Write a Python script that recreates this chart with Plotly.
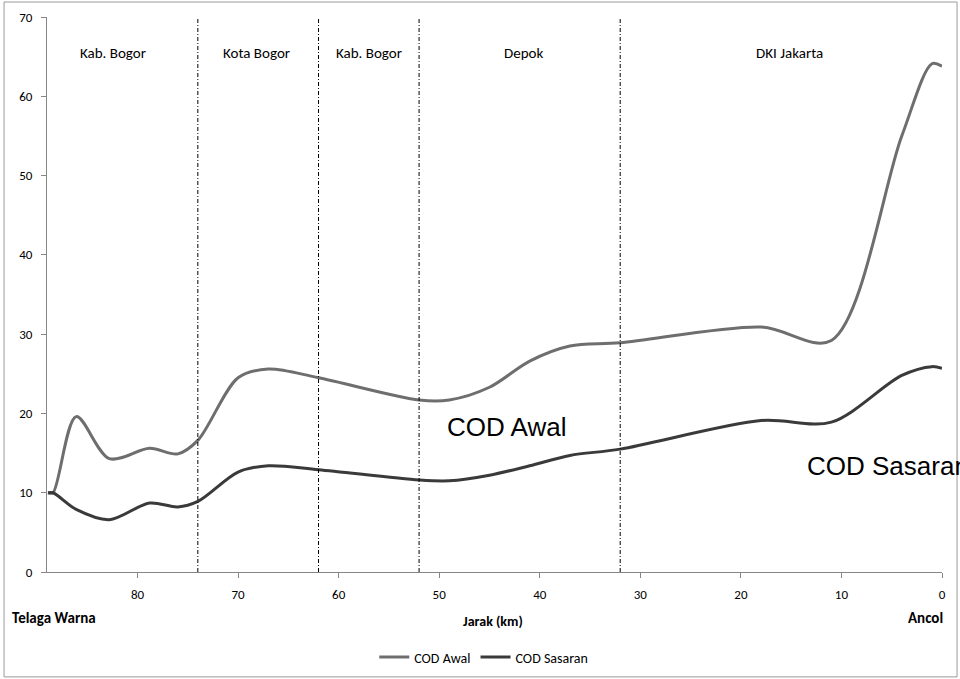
import plotly.graph_objects as go

# Distance from Ancol (km)
jarak_km = [88.9, 88.4, 86.1, 82.8, 78.8, 76.0, 74.0, 70.0, 67.0, 62.0, 52.0, 49.0,
            45.0, 41.0, 37.0, 32.0, 18.0, 11.0, 4.0, 1.0, 0.0]
cod_awal = [10.0, 10.0, 19.6, 14.3, 15.6, 14.9, 16.6, 24.5, 25.6, 24.5, 21.7, 21.7,
            23.3, 26.6, 28.5, 28.9, 30.9, 29.2, 55.0, 64.1, 63.8]
cod_sasaran = [10.0, 10.0, 7.9, 6.6, 8.7, 8.2, 8.9, 12.6, 13.4, 12.9, 11.6, 11.5,
               12.2, 13.4, 14.7, 15.5, 19.1, 18.9, 24.8, 25.9, 25.7]

# Administrative boundaries along the river (km) and region names
boundaries = [74, 62, 52, 32]
region_names = ["Kab. Bogor", "Kota Bogor", "Kab. Bogor", "Depok", "DKI Jakarta"]
region_label_km = [82.4, 68.2, 57.0, 41.6, 15.2]

x_ticks = [80, 70, 60, 50, 40, 30, 20, 10, 0]
y_ticks = [0, 10, 20, 30, 40, 50, 60, 70]

TXT_FONT = "Carlito, Lato, Calibri, sans-serif"
BIG_FONT = "Liberation Sans, Arial, sans-serif"

fig = go.Figure()
fig.add_trace(go.Scatter(
    x=jarak_km, y=cod_awal, name="COD Awal", mode="lines",
    line=dict(color="#6e6e6e", width=3, shape="spline", smoothing=0.9),
))
fig.add_trace(go.Scatter(
    x=jarak_km, y=cod_sasaran, name="COD Sasaran", mode="lines",
    line=dict(color="#3a3a3a", width=3, shape="spline", smoothing=0.9),
))

# vertical boundary lines
for b in boundaries:
    fig.add_shape(type="line", xref="x", yref="paper", x0=b, x1=b, y0=0, y1=1,
                  line=dict(color="black", width=1, dash="4px,2px,1px,2px"))

annotations = []
for name, xk in zip(region_names, region_label_km):
    annotations.append(dict(x=xk, y=65.4, xref="x", yref="y", text=name,
                            showarrow=False, font=dict(family=TXT_FONT, size=15, color="black")))

annotations += [
    dict(x=43.3, y=18.3, xref="x", yref="y", text="COD Awal", showarrow=False,
         font=dict(family=BIG_FONT, size=26, color="black")),
    dict(x=13.6, y=13.4, xref="x", yref="y", text="COD Sasaran", showarrow=False,
         xanchor="left", font=dict(family=BIG_FONT, size=26, color="black")),
    dict(x=0.498, y=-0.0883, xref="paper", yref="paper", text="<b>Jarak (km)</b>",
         showarrow=False, yanchor="middle", font=dict(family=TXT_FONT, size=14, color="black")),
    dict(x=-0.041, y=-0.083, xref="paper", yref="paper", text="<b>Telaga Warna</b>",
         showarrow=False, xanchor="left", yanchor="middle",
         font=dict(family=TXT_FONT, size=15, color="black")),
    dict(x=1.0034, y=-0.083, xref="paper", yref="paper", text="<b>Ancol</b>",
         showarrow=False, xanchor="right", yanchor="middle",
         font=dict(family=TXT_FONT, size=15, color="black")),
]

# outer chart border
fig.add_shape(type="rect", xref="paper", yref="paper",
              x0=-0.048, x1=1.0168, y0=-0.189, y1=1.027,
              line=dict(color="#9a9a9a", width=1), layer="below")

fig.update_layout(
    width=960, height=679,
    margin=dict(l=47, r=18, t=17, b=107, autoexpand=False),
    paper_bgcolor="white", plot_bgcolor="white",
    font=dict(family=TXT_FONT, size=13, color="black"),
    annotations=annotations,
    showlegend=True,
    legend=dict(orientation="h", x=0.488, xanchor="center", y=-0.154, yanchor="middle",
                font=dict(family=TXT_FONT, size=14, color="black"),
                bgcolor="rgba(0,0,0,0)", itemwidth=30),
    xaxis=dict(range=[89, 0], tickvals=x_ticks, showgrid=False, zeroline=False,
               showline=True, linecolor="#868686", linewidth=1,
               ticks="outside", ticklen=5, tickcolor="#868686",
               tickfont=dict(family=TXT_FONT, size=13, color="black"),
               ticklabelstandoff=5, automargin=False),
    yaxis=dict(range=[0, 70], tickvals=y_ticks, showgrid=False, zeroline=False,
               showline=True, linecolor="#868686", linewidth=1,
               ticks="outside", ticklen=5, tickcolor="#868686",
               tickfont=dict(family=TXT_FONT, size=13, color="black"),
               ticklabelstandoff=6, automargin=False),
)

fig.write_html(
    "out.html",
    config={"displayModeBar": False},
    post_script=(
        "document.documentElement.style.margin='0';"
        "document.documentElement.style.padding='0';"
        "document.documentElement.style.overflow='hidden';"
        "document.body.style.margin='0';"
        "document.body.style.padding='0';"
        "document.body.style.overflow='hidden';"
    ),
)
